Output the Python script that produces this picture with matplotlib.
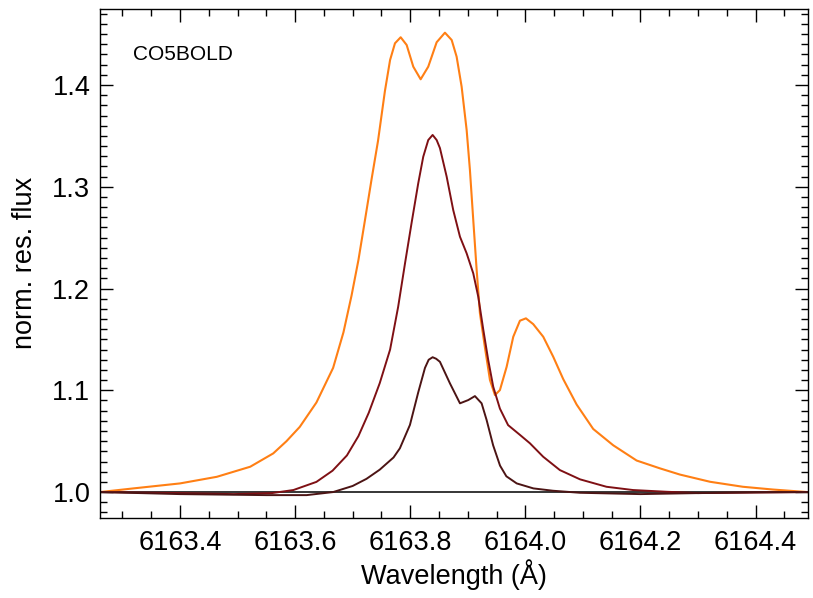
import matplotlib.pyplot as plt
from matplotlib.ticker import MultipleLocator

plt.rcParams['font.family'] = ['Liberation Sans', 'DejaVu Sans']

# curva naranja (la mas alta)
wl_naranja = [6163.261, 6163.319, 6163.400, 6163.464, 6163.522, 6163.562, 6163.585,
              6163.608, 6163.637, 6163.666, 6163.684, 6163.698, 6163.710, 6163.721,
              6163.733, 6163.744, 6163.756, 6163.765, 6163.7735, 6163.7834, 6163.7938,
              6163.8053, 6163.8181, 6163.8313, 6163.8459, 6163.8603, 6163.8720, 6163.8806,
              6163.8893, 6163.8980, 6163.9037, 6163.9095, 6163.9154, 6163.9211, 6163.9298,
              6163.9385, 6163.9472, 6163.9558, 6163.9675, 6163.9790, 6163.9906, 6164.0010,
              6164.0137, 6164.0311, 6164.0484, 6164.0658, 6164.0891, 6164.1179, 6164.1526,
              6164.1933, 6164.2338, 6164.2685, 6164.321, 6164.378, 6164.430, 6164.490]
flujo_naranja = [1.000, 1.0036, 1.0085, 1.015, 1.0249, 1.038, 1.050,
                 1.064, 1.088, 1.122, 1.157, 1.193, 1.228, 1.266,
                 1.308, 1.345, 1.394, 1.4246, 1.4410, 1.4469, 1.4393,
                 1.4180, 1.4056, 1.4180, 1.4420, 1.4514, 1.4442, 1.4278,
                 1.3983, 1.3558, 1.3165, 1.2673, 1.2182, 1.1756, 1.1420,
                 1.1101, 1.0953, 1.1002, 1.1231, 1.1526, 1.1684, 1.1707,
                 1.1650, 1.1526, 1.1330, 1.1110, 1.0860, 1.0620, 1.0460,
                 1.0310, 1.0233, 1.0172, 1.0101, 1.0052, 1.0025, 1.000]

# curva roja oscura (intermedia)
wl_rojo = [6163.261, 6163.400, 6163.493, 6163.560, 6163.597, 6163.637, 6163.665,
           6163.690, 6163.710, 6163.728, 6163.747, 6163.765, 6163.779, 6163.791,
           6163.8025, 6163.8139, 6163.8226, 6163.8313, 6163.8389, 6163.8459, 6163.8516,
           6163.8633, 6163.8747, 6163.8864, 6163.8980, 6163.9095, 6163.9182, 6163.9268,
           6163.9355, 6163.9442, 6163.9558, 6163.9700, 6163.991, 6164.008, 6164.031,
           6164.060, 6164.095, 6164.141, 6164.187, 6164.245, 6164.300, 6164.400, 6164.490]
flujo_rojo = [1.000, 0.999, 0.998, 0.999, 1.002, 1.010, 1.021,
              1.036, 1.055, 1.078, 1.107, 1.140, 1.182, 1.225,
              1.265, 1.3034, 1.3295, 1.3459, 1.3509, 1.3459, 1.3380,
              1.3099, 1.2771, 1.2509, 1.2346, 1.2149, 1.1919, 1.1600,
              1.1297, 1.1035, 1.0820, 1.0658, 1.0560, 1.0479, 1.0347,
              1.0216, 1.0125, 1.0052, 1.002, 1.0003, 0.999, 0.9995, 1.000]

# curva marron (la mas baja)
wl_marron = [6163.261, 6163.400, 6163.550, 6163.620, 6163.666, 6163.700, 6163.724,
             6163.747, 6163.771, 6163.782, 6163.7995, 6163.8139, 6163.8256, 6163.832,
             6163.8389, 6163.845, 6163.8516, 6163.8690, 6163.8864, 6163.9008, 6163.9124,
             6163.9240, 6163.9327, 6163.944, 6163.956, 6163.967, 6163.985, 6164.014,
             6164.048, 6164.095, 6164.200, 6164.300, 6164.400, 6164.490]
flujo_marron = [1.000, 0.998, 0.997, 0.997, 1.000, 1.006, 1.013,
                1.022, 1.034, 1.043, 1.066, 1.098, 1.122, 1.130,
                1.1325, 1.131, 1.128, 1.1068, 1.0872, 1.0904, 1.0943,
                1.0872, 1.0708, 1.0460, 1.0260, 1.0155, 1.0085, 1.0036,
                1.0013, 0.9993, 0.998, 0.999, 0.9998, 1.000]

fig = plt.figure(figsize=(8.13, 5.98), dpi=100)
ax = fig.add_axes([0.123, 0.1346, 0.8708, 0.8504])

ax.axhline(1.0, color='black', lw=1.1)
ax.plot(wl_naranja, flujo_naranja, color='#ff7f14', lw=1.5, solid_joinstyle='round')
ax.plot(wl_rojo, flujo_rojo, color='#7f1014', lw=1.4, solid_joinstyle='round')
ax.plot(wl_marron, flujo_marron, color='#4c1414', lw=1.4, solid_joinstyle='round')

ax.set_xlim(6163.261, 6164.491)
ax.set_ylim(0.975, 1.4747)

ax.xaxis.set_major_locator(MultipleLocator(0.2))
ax.xaxis.set_minor_locator(MultipleLocator(0.05))
ax.yaxis.set_major_locator(MultipleLocator(0.1))
ax.yaxis.set_minor_locator(MultipleLocator(0.01))
ax.xaxis.set_major_formatter(plt.FormatStrFormatter('%.1f'))
ax.yaxis.set_major_formatter(plt.FormatStrFormatter('%.1f'))

ax.tick_params(which='both', direction='in', top=True, right=True, width=1.0)
ax.tick_params(which='major', length=9.5, labelsize=19.5)
ax.tick_params(which='minor', length=5)
ax.tick_params(axis='x', pad=9)
ax.tick_params(axis='y', pad=7)
for s in ax.spines.values():
    s.set_linewidth(1.0)

ax.set_xlabel('Wavelength (Å)', fontsize=19.5, labelpad=2)
ax.set_ylabel('norm. res. flux', fontsize=19.5, labelpad=10)
ax.text(0.047, 0.90, 'CO5BOLD', transform=ax.transAxes, fontsize=15)

fig.savefig('out.png', dpi=100)
